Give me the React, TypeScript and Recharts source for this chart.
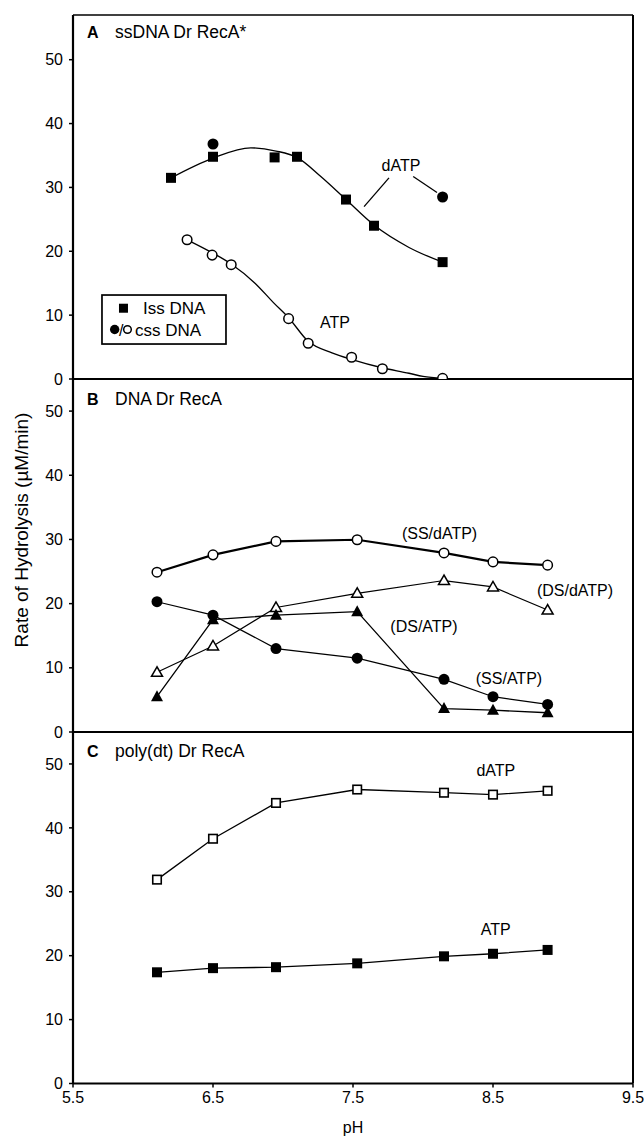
import React from 'react';
import { ComposedChart, Line, XAxis, YAxis, ReferenceLine, ReferenceDot } from 'recharts';

const FONT = '"Liberation Sans", Arial, Helvetica, sans-serif';

const xTicks = [5.5, 6.5, 7.5, 8.5, 9.5];
const yTicks = [0, 10, 20, 30, 40, 50];

// Panel A: ssDNA Dr RecA*
const phA_iss = [6.2, 6.5, 6.94, 7.1, 7.45, 7.65, 8.14];
const dATP_iss = [31.5, 34.8, 34.7, 34.8, 28.1, 24.0, 18.3];
const phA_cssD = [6.5, 8.14];
const dATP_css = [36.8, 28.5];
const phA_cssA = [6.315, 6.494, 6.63, 7.04, 7.18, 7.49, 7.71, 8.14];
const ATP_css = [21.8, 19.4, 17.9, 9.45, 5.6, 3.4, 1.6, 0.1];
const phA_fitD = [6.2, 6.5, 6.77, 6.95, 7.1, 7.27, 7.45, 7.65, 7.9, 8.14];
const fitD = [31.5, 34.6, 36.2, 35.7, 34.7, 31.7, 28.1, 24.1, 20.6, 18.3];
const phA_fitA = [6.315, 6.5, 6.63, 6.8, 6.93, 7.04, 7.18, 7.35, 7.5, 7.7, 7.9, 8.0, 8.14];
const fitA = [21.8, 19.7, 18.0, 15.0, 12.0, 9.6, 5.9, 4.1, 3.0, 1.8, 0.9, 0.4, 0.1];

// Panels B and C share pH values
const phBC = [6.1, 6.5, 6.95, 7.53, 8.15, 8.5, 8.89];
const ssdATP = [24.9, 27.6, 29.7, 29.95, 27.9, 26.5, 26.0];
const dsdATP = [9.3, 13.4, 19.4, 21.6, 23.6, 22.6, 19.0];
const dsATP = [5.5, 17.5, 18.2, 18.75, 3.65, 3.4, 3.0];
const ssATP = [20.3, 18.2, 13.0, 11.5, 8.2, 5.5, 4.3];
const polydATP = [31.9, 38.3, 43.9, 46.0, 45.5, 45.2, 45.8];
const polyATP = [17.4, 18.05, 18.2, 18.8, 19.9, 20.3, 20.9];

const zip = (xs: number[], ys: number[]) => xs.map((x, i) => ({ x, y: ys[i] }));

type Kind = 'sqF' | 'sqO' | 'cirF' | 'cirO' | 'triF' | 'triO';

const Marker = ({ cx, cy, kind, s = 10 }: { cx: number; cy: number; kind: Kind; s?: number }) => {
  if (cx == null || cy == null || isNaN(cx) || isNaN(cy)) return null;
  const h = s / 2;
  switch (kind) {
    case 'sqF':
      return <rect x={cx - h} y={cy - h} width={s} height={s} fill="#000" />;
    case 'sqO':
      return <rect x={cx - h + 0.75} y={cy - h + 0.75} width={s - 1.5} height={s - 1.5} fill="#fff" stroke="#000" strokeWidth={1.6} />;
    case 'cirF':
      return <circle cx={cx} cy={cy} r={h} fill="#000" />;
    case 'cirO':
      return <circle cx={cx} cy={cy} r={h - 0.7} fill="#fff" stroke="#000" strokeWidth={1.5} />;
    case 'triF':
      return <polygon points={`${cx},${cy - h - 1} ${cx - h - 0.5},${cy + h - 1} ${cx + h + 0.5},${cy + h - 1}`} fill="#000" />;
    case 'triO':
      return <polygon points={`${cx},${cy - h} ${cx - h},${cy + h - 1.5} ${cx + h},${cy + h - 1.5}`} fill="#fff" stroke="#000" strokeWidth={1.5} strokeLinejoin="miter" />;
  }
  return null;
};

const dot = (kind: Kind, s = 10) => (p: any) => (
  <Marker key={`${kind}-${p.index}`} cx={p.cx} cy={p.cy} kind={kind} s={s} />
);

const txt = (s: string, size = 16) => (p: any) => (
  <text x={p.cx} y={p.cy} textAnchor="middle" dominantBaseline="central" fontSize={size} fontFamily={FONT} fill="#000">
    {s}
  </text>
);

const title = (letter: string, s: string) => (p: any) => (
  <text x={p.cx} y={p.cy} fontSize={17.5} fontFamily={FONT} fill="#000">
    <tspan fontWeight="bold" fontSize={16}>{letter}</tspan>
    <tspan x={p.cx + 28}>{s}</tspan>
  </text>
);

const legendShape = (p: any) => {
  const x = p.cx;
  const y = p.cy;
  return (
    <g>
      <rect x={x} y={y} width={124} height={49} fill="#fff" stroke="#000" strokeWidth={1.7} />
      <rect x={x + 17} y={y + 8.7} width={9} height={9} fill="#000" />
      <text x={x + 41} y={y + 13.5} dominantBaseline="central" fontSize={17} fontFamily={FONT} fill="#000">Iss DNA</text>
      <circle cx={x + 12.7} cy={y + 34.5} r={4.7} fill="#000" />
      <text x={x + 17} y={y + 35} dominantBaseline="central" fontSize={16} fontFamily={FONT} fill="#000">/</text>
      <circle cx={x + 25.5} cy={y + 34.5} r={3.8} fill="#fff" stroke="#000" strokeWidth={1.5} />
      <text x={x + 33} y={y + 35} dominantBaseline="central" fontSize={17} fontFamily={FONT} fill="#000">css DNA</text>
    </g>
  );
};

const tickStyle = { fontSize: 16, fill: '#000', fontFamily: FONT };

const axes = (yMax: number, bottom: boolean) => [
  <XAxis
    key="x"
    type="number"
    dataKey="x"
    domain={[5.5, 9.5]}
    ticks={xTicks}
    allowDataOverflow
    height={bottom ? 53.5 : 10}
    tick={bottom ? tickStyle : false}
    tickSize={4}
    tickMargin={4}
    tickFormatter={(v: number) => v.toFixed(1)}
    axisLine={{ stroke: '#000', strokeWidth: 2.2 }}
    tickLine={{ stroke: '#000', strokeWidth: 1.5 }}
    label={bottom ? { value: 'pH', position: 'insideBottom', offset: 4, fill: '#000', fontSize: 16, fontFamily: FONT } : undefined}
  />,
  <YAxis
    key="y"
    type="number"
    dataKey="y"
    domain={[0, yMax]}
    ticks={yTicks}
    allowDataOverflow
    width={73}
    tick={tickStyle}
    tickSize={4}
    tickMargin={6}
    axisLine={{ stroke: '#000', strokeWidth: 2.2 }}
    tickLine={{ stroke: '#000', strokeWidth: 1.5 }}
  />,
  <ReferenceLine key="r" x={9.5} stroke="#000" strokeWidth={2} />,
];

const W = 644;
const margin = (top: number) => ({ top, right: 11, bottom: 0, left: 0 });

export default function App() {
  return (
    <div style={{ position: 'absolute', left: 0, top: 0, width: 644, height: 1137, background: '#fff', fontFamily: FONT }}>
      {/* Panel A */}
      <div style={{ position: 'absolute', left: 0, top: 0 }}>
        <ComposedChart width={W} height={389} margin={margin(15)}>
          {axes(57, false)}
          <ReferenceLine y={57} stroke="#000" strokeWidth={1.6} />
          <Line data={zip(phA_fitD, fitD)} dataKey="y" type="monotone" stroke="#000" strokeWidth={1.3} dot={false} isAnimationActive={false} />
          <Line data={zip(phA_fitA, fitA)} dataKey="y" type="monotone" stroke="#000" strokeWidth={1.3} dot={false} isAnimationActive={false} />
          <Line data={zip(phA_iss, dATP_iss)} dataKey="y" stroke="none" dot={dot('sqF', 10)} activeDot={false} isAnimationActive={false} />
          <Line data={zip(phA_cssD, dATP_css)} dataKey="y" stroke="none" dot={dot('cirF', 11)} activeDot={false} isAnimationActive={false} />
          <Line data={zip(phA_cssA, ATP_css)} dataKey="y" stroke="none" dot={dot('cirO', 11)} activeDot={false} isAnimationActive={false} />
          <ReferenceLine segment={[{ x: 7.757, y: 31.5 }, { x: 7.579, y: 27.0 }]} stroke="#000" strokeWidth={1.3} />
          <ReferenceLine segment={[{ x: 7.93, y: 31.7 }, { x: 8.1, y: 29.2 }]} stroke="#000" strokeWidth={1.3} />
          <ReferenceDot x={7.843} y={33.5} r={0} shape={txt('dATP')} />
          <ReferenceDot x={7.371} y={8.8} r={0} shape={txt('ATP')} />
          <ReferenceDot x={5.6} y={53.4} r={0} shape={title('A', 'ssDNA Dr RecA*')} />
          <ReferenceDot x={5.707} y={13.15} r={0} shape={legendShape} />
        </ComposedChart>
      </div>

      {/* Panel B */}
      <div style={{ position: 'absolute', left: 0, top: 369 }}>
        <ComposedChart width={W} height={373} margin={margin(10)}>
          {axes(55, false)}
          <Line data={zip(phBC, ssdATP)} dataKey="y" type="linear" stroke="#000" strokeWidth={2.2} dot={dot('cirO', 11)} activeDot={false} isAnimationActive={false} />
          <Line data={zip(phBC, dsdATP)} dataKey="y" type="linear" stroke="#000" strokeWidth={1.2} dot={dot('triO', 11)} activeDot={false} isAnimationActive={false} />
          <Line data={zip(phBC, dsATP)} dataKey="y" type="linear" stroke="#000" strokeWidth={1.3} dot={dot('triF', 11)} activeDot={false} isAnimationActive={false} />
          <Line data={zip(phBC, ssATP)} dataKey="y" type="linear" stroke="#000" strokeWidth={1.2} dot={dot('cirF', 11)} activeDot={false} isAnimationActive={false} />
          <ReferenceDot x={8.118} y={31.0} r={0} shape={txt('(SS/dATP)')} />
          <ReferenceDot x={9.086} y={22.0} r={0} shape={txt('(DS/dATP)')} />
          <ReferenceDot x={8.007} y={16.5} r={0} shape={txt('(DS/ATP)')} />
          <ReferenceDot x={8.614} y={8.4} r={0} shape={txt('(SS/ATP)')} />
          <ReferenceDot x={5.6} y={50.95} r={0} shape={title('B', 'DNA Dr RecA')} />
        </ComposedChart>
      </div>

      {/* Panel C */}
      <div style={{ position: 'absolute', left: 0, top: 722 }}>
        <ComposedChart width={W} height={415} margin={margin(10)}>
          {axes(55, true)}
          <Line data={zip(phBC, polydATP)} dataKey="y" type="linear" stroke="#000" strokeWidth={1.3} dot={dot('sqO', 10)} activeDot={false} isAnimationActive={false} />
          <Line data={zip(phBC, polyATP)} dataKey="y" type="linear" stroke="#000" strokeWidth={1.3} dot={dot('sqF', 10)} activeDot={false} isAnimationActive={false} />
          <ReferenceDot x={8.52} y={49.0} r={0} shape={txt('dATP')} />
          <ReferenceDot x={8.52} y={24.1} r={0} shape={txt('ATP')} />
          <ReferenceDot x={5.6} y={51.1} r={0} shape={title('C', 'poly(dt) Dr RecA')} />
        </ComposedChart>
      </div>

      {/* Y-axis title */}
      <div
        style={{
          position: 'absolute',
          left: 21,
          top: 530,
          transform: 'translate(-50%, -50%) rotate(-90deg)',
          whiteSpace: 'nowrap',
          fontSize: 19,
          fontFamily: FONT,
          color: '#000',
          lineHeight: 1,
        }}
      >
        Rate of Hydrolysis (µM/min)
      </div>
    </div>
  );
}
